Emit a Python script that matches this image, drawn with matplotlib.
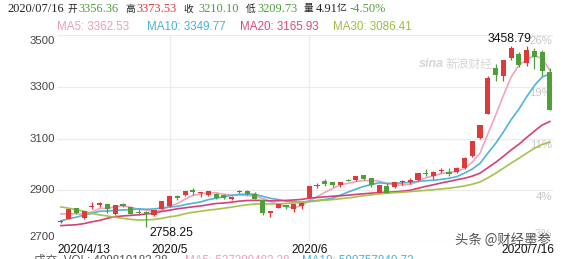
import numpy as np
import pandas as pd
import matplotlib
matplotlib.use("Agg")
import matplotlib.pyplot as plt
import matplotlib.transforms as mtransforms

# Shanghai composite, daily candles 2020/4/13 - 2020/7/16
holidays = ["2020-05-01", "2020-05-04", "2020-05-05", "2020-06-25", "2020-06-26"]
dates = pd.bdate_range("2020-04-13", "2020-07-16")
dates = dates[~dates.isin(pd.to_datetime(holidays))]

opens = [2780.8, 2789.4, 2829.7, 2794.6, 2836.6, 2842.5, 2845.5, 2809.7, 2846.7, 2833.6,
         2816.0, 2817.4, 2805.4, 2827.3, 2838.8, 2877.9, 2881.1, 2899.5, 2890.8, 2883.4,
         2884.5, 2883.1, 2865.4, 2893.8, 2898.2, 2885.1, 2860.8, 2812.8, 2830.7, 2843.8,
         2828.0, 2839.6, 2869.0, 2915.6, 2935.0, 2930.2, 2921.3, 2939.9, 2938.9, 2957.6,
         2945.9, 2891.0, 2914.5, 2910.8, 2932.2, 2930.5, 2940.8, 2967.9, 2955.0, 2977.2,
         2971.9, 2969.1, 2985.0, 3030.9, 3103.4, 3195.6, 3373.3, 3342.6, 3411.0, 3427.4,
         3390.1, 3437.6, 3435.5, 3356.36]
highs = [2786.9, 2827.3, 2829.7, 2821.4, 2853.3, 2852.9, 2846.4, 2844.6, 2851.6, 2835.4,
         2828.6, 2819.1, 2822.9, 2860.1, 2878.1, 2880.1, 2898.4, 2909.6, 2892.4, 2898.1,
         2890.7, 2884.0, 2877.5, 2901.5, 2899.5, 2892.8, 2860.8, 2818.2, 2846.2, 2843.8,
         2846.6, 2853.9, 2915.4, 2928.1, 2942.8, 2930.2, 2933.0, 2945.4, 2956.4, 2958.6,
         2948.9, 2920.6, 2927.7, 2932.5, 2940.4, 2945.8, 2968.4, 2983.6, 2972.5, 2986.0,
         2987.4, 2989.5, 3027.6, 3091.3, 3153.6, 3342.0, 3386.4, 3403.4, 3456.97, 3434.1,
         3458.79, 3448.5, 3440.3, 3373.53]
lows = [2771.6, 2787.5, 2806.7, 2787.4, 2829.0, 2836.1, 2811.5, 2804.5, 2834.7, 2806.4,
        2803.7, 2758.25, 2799.1, 2826.1, 2835.7, 2863.2, 2877.1, 2882.4, 2873.0, 2876.8,
        2864.8, 2865.1, 2864.0, 2889.4, 2880.3, 2864.5, 2805.7, 2797.3, 2830.0, 2828.1,
        2816.5, 2829.0, 2868.2, 2908.5, 2918.2, 2910.7, 2911.8, 2934.6, 2937.4, 2938.8,
        2911.4, 2887.6, 2890.0, 2909.6, 2921.9, 2926.0, 2937.0, 2956.9, 2942.0, 2967.8,
        2956.2, 2966.9, 2984.0, 3030.0, 3096.9, 3194.9, 3323.9, 3321.7, 3404.9, 3374.6,
        3378.9, 3367.1, 3339.8, 3209.73]
closes = [2783.05, 2827.28, 2811.17, 2819.94, 2838.49, 2852.55, 2827.01, 2843.98, 2838.50, 2808.53,
          2815.49, 2810.02, 2822.44, 2860.08, 2878.14, 2871.52, 2895.34, 2894.80, 2891.56, 2898.05,
          2870.34, 2868.46, 2875.42, 2898.58, 2883.74, 2867.92, 2813.77, 2817.97, 2846.22, 2836.80,
          2846.55, 2852.35, 2915.43, 2921.40, 2923.37, 2919.25, 2930.80, 2937.77, 2956.11, 2943.32,
          2920.90, 2919.74, 2890.03, 2931.75, 2935.87, 2939.32, 2967.63, 2965.27, 2970.62, 2979.55,
          2961.52, 2984.67, 3025.98, 3090.57, 3152.81, 3332.88, 3345.34, 3403.44, 3450.59, 3383.32,
          3443.29, 3414.62, 3361.30, 3210.10]
# closes from 2020/3/2 to 2020/4/10, needed for the moving averages
closes_before = [2970.93, 2992.90, 3011.67, 3071.68, 3034.51, 2943.29, 2996.76, 2968.52, 2923.49, 2887.43,
                 2789.25, 2779.64, 2728.76, 2702.13, 2745.62, 2660.17, 2722.44, 2781.59, 2764.91, 2772.20,
                 2747.21, 2750.30, 2734.52, 2780.64, 2763.99, 2820.76, 2815.37, 2825.90, 2796.63]

ma_periods = [5, 10, 20, 30]
ma_values = [3362.53, 3349.77, 3165.93, 3086.41]
ma_colors = ["#f2a3bf", "#4db5d6", "#d63f78", "#a6c24a"]
ma_text_colors = ["#eba0bb", "#4ab3d3", "#d94b80", "#9cbf3c"]
yticks = [2700, 2900, 3100, 3300, 3500]

RED = "#dd3b3b"
GREEN = "#4e9f3a"
W, H = 566, 259

fig = plt.figure(figsize=(W / 100, H / 100), dpi=100)
ax = fig.add_axes([57 / W, (H - 242) / H, (553 - 57) / W, (242 - 35) / H])
n = len(closes)
x = np.arange(n)
ax.set_xlim(-0.5, 63.4)
ax.set_ylim(2700, 3500)
for s in ax.spines.values():
    s.set_visible(False)
ax.set_xticks([])
ax.set_yticks([])

# grid (month lines only where there is room for a label)
for v in yticks:
    ax.axhline(v, color="#ebebeb", lw=0.9, zorder=0)
month_starts = [i for i in range(1, n)
                if dates[i].month != dates[i - 1].month and n - i > 15]
for i in month_starts:
    ax.axvline(i, color="#ebebeb", lw=0.9, zorder=0)

# moving averages
allc = pd.Series(closes_before + closes)
for p, col in zip(ma_periods, ma_colors):
    ma = allc.rolling(p).mean().values[len(closes_before):]
    ax.plot(x, ma, color=col, lw=1.2, zorder=2)

# candles
for i in range(n):
    o, h, l, c = opens[i], highs[i], lows[i], closes[i]
    col = RED if c >= o else GREEN
    ax.vlines(i, l, h, color=col, lw=0.9, zorder=3)
    ax.bar(i, max(abs(c - o), 3.5), bottom=min(o, c) - (1.75 if abs(c - o) < 3.5 else 0),
           width=0.66, color=col, zorder=4, linewidth=0)

# y labels
ylab = mtransforms.blended_transform_factory(ax.transAxes, ax.transData)
base = closes[0]
for k, v in enumerate(yticks):
    va = "bottom" if k == 0 else ("top" if k == len(yticks) - 1 else "center")
    off = 3 if k == len(yticks) - 1 else 0
    ax.text(-0.005, v - off, str(v), transform=ylab, ha="right", va=va,
            fontsize=8.2, color="#444444", family="Liberation Sans")
    pct = round((v / base - 1) * 100)
    ax.text(0.998, v + (12 if k == 0 else -5), "%d%%" % pct, transform=ylab, ha="right",
            va="bottom" if k == 0 else "top", fontsize=8.2, color="#c9c9c9",
            family="Liberation Sans", zorder=1)

# x labels
xl = mtransforms.blended_transform_factory(ax.transData, fig.transFigure)
ylab_fig = 1 - 250 / H
ax.text(-0.5, ylab_fig, "%d/%d/%d" % (dates[0].year, dates[0].month, dates[0].day), transform=xl,
        ha="left", va="center", fontsize=8.6, family="Liberation Sans", color="#111111")
for i in month_starts:
    ax.text(i, ylab_fig, "%d/%d" % (dates[i].year, dates[i].month), transform=xl,
            ha="center", va="center", fontsize=8.6, family="Liberation Sans", color="#111111")
ax.text(63.6, ylab_fig, "%d/%d/%d" % (dates[-1].year, dates[-1].month, dates[-1].day), transform=xl,
        ha="right", va="center", fontsize=8.6, family="Liberation Sans", color="#111111")

# high / low marks
ih = int(np.argmax(highs))
il = int(np.argmin(lows))
ax.text(ih + 0.6, highs[ih] + 2, "%.2f" % highs[ih], ha="right", va="bottom",
        fontsize=8.8, family="Liberation Sans", color="#111111", zorder=5)
ax.text(il + 0.4, lows[il] - 2, "%.2f" % lows[il], ha="left", va="top",
        fontsize=8.8, family="Liberation Sans", color="#111111", zorder=5)

# watermark
fig.text(419 / W, 1 - 64 / H, "sina", fontsize=9, style="italic", weight="bold",
         color="#d6d6d6", va="center", family="Liberation Sans")
fig.text(446 / W, 1 - 64 / H, "新浪财经", fontsize=8.5, color="#d6d6d6", va="center",
         family=["Noto Sans CJK SC", "DejaVu Sans"])

# header line
serif = ["Liberation Serif", "Noto Sans CJK SC"]
chg = (closes[-1] / closes[-2] - 1) * 100
d = dates[-1]
head = [("%d/%02d/%02d" % (d.year, d.month, d.day), "#222222", 7),
        ("开", "#222222", 67), ("%.2f" % opens[-1], GREEN, 78),
        ("高", "#222222", 125), ("%.2f" % highs[-1], RED, 136),
        ("收", "#222222", 183), ("%.2f" % closes[-1], GREEN, 198),
        ("低", "#222222", 246), ("%.2f" % lows[-1], GREEN, 257),
        ("量", "#222222", 304), ("4.91", "#222222", 316), ("亿", "#222222", 337),
        ("%.2f%%" % chg, GREEN, 350)]
for s, col, xp in head:
    cj = not s[0].isdigit() and s[0] != "-"
    fig.text(xp / W, 1 - 9 / H, s, color=col, fontsize=7.0 if cj else 8.9,
             family=serif, va="center")

ma_x = [57, 147, 240, 333]
for p, v, col, xp in zip(ma_periods, ma_values, ma_text_colors, ma_x):
    fig.text(xp / W, 1 - 27 / H, "MA%d: %.2f" % (p, v), color=col, fontsize=8.4,
             family="Liberation Sans", va="center")

# volume line, mostly cut off at the bottom
cjk = ["Liberation Sans", "Noto Sans CJK SC"]
fig.text(34 / W, 1 - 255 / H, "成交  VOL: 409810183.38", color="#555555", fontsize=8.4,
         family=cjk, va="top")
fig.text(185 / W, 1 - 255 / H, "MA5: 527390483.38", color=ma_text_colors[0], fontsize=8.4,
         family=cjk, va="top")
fig.text(302 / W, 1 - 255 / H, "MA10: 500757840.72", color=ma_text_colors[1], fontsize=8.4,
         family=cjk, va="top")

# toutiao mark
fig.text(455 / W, 1 - 240 / H, "头条 @财经墨参", color="#333333", fontsize=9.6, alpha=0.85,
         family=["Noto Sans CJK SC", "DejaVu Sans"], va="center")

fig.savefig("out.png", dpi=100)
